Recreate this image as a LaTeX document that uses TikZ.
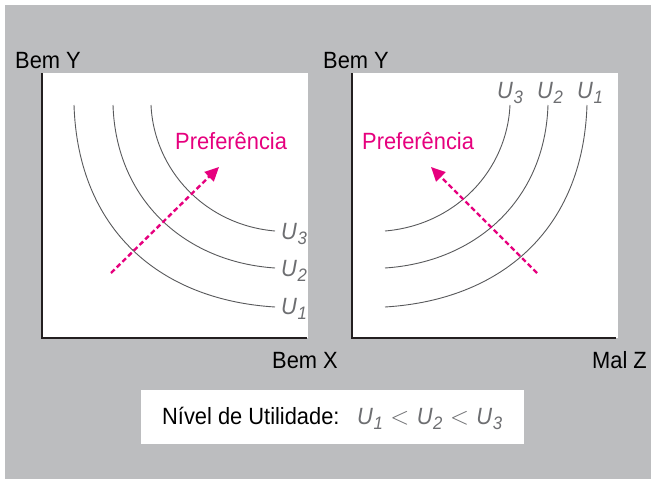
\documentclass[tikz,border=0pt]{standalone}
\usepackage{fontspec}
\setmainfont[FakeStretch=0.93]{Liberation Sans}
\usetikzlibrary{arrows.meta}
\definecolor{bggray}{HTML}{BCBDBF}
\definecolor{curvegray}{HTML}{58595B}
\definecolor{labgray}{HTML}{6D6E71}
\definecolor{axisdark}{HTML}{231F20}
\definecolor{pref}{HTML}{E6007E}
\newcommand\Ulab[1]{\textit{U}\kern0.5pt\raisebox{-0.22em}{\fontsize{18}{18}\selectfont\textit{#1}}}
\newcommand\lessgap{\hspace{7.5pt}{\fontsize{26}{26}\selectfont$<$}\hspace{7.5pt}}
\tikzset{
  lbl/.style={anchor=base west, inner sep=0pt, font=\fontsize{23.5}{27}\selectfont},
  ulbl/.style={anchor=base west, inner sep=0pt, text=labgray, font=\fontsize{23.5}{27}\selectfont},
  prefl/.style={anchor=base west, inner sep=0pt, text=pref, font=\fontsize{23.5}{27}\selectfont},
  panel/.style={fill=white, draw=none},
  axisline/.style={draw=axisdark, line width=1.3pt},
  ucurve/.style={draw=curvegray, line width=0.9pt},
  prefarrow/.style={draw=pref, line width=2.4pt, dash pattern=on 5pt off 3pt, -{Triangle[length=14pt,width=13pt]}}
}
\begin{document}
\begin{tikzpicture}[x=1pt,y=-1pt]
\useasboundingbox (0,0) rectangle (651,479);
\fill[white] (0,0) rectangle (651,479);
\fill[bggray] (5,5) rectangle (651,479);
% panels
\fill[panel] (42,73) rectangle (308,338);
\fill[panel] (351,73) rectangle (618,338);
\fill[panel] (141,390) rectangle (524,444);
% axes
\coordinate (ltop) at (42,73);
\coordinate (lorig) at (42,338);
\coordinate (lend) at (307,338);
\draw[axisline] (ltop) -- (lorig) -- (lend);
\coordinate (rtop) at (352,73);
\coordinate (rorig) at (352,338);
\coordinate (rend) at (616,338);
\draw[axisline] (rtop) -- (rorig) -- (rend);
% axis labels
\node[lbl] (bemyl) at (15,68) {Bem Y};
\node[lbl] (bemyr) at (323,68) {Bem Y};
\node[lbl] (bemx) at (272,368) {Bem X};
\node[lbl] (malz) at (592,368) {Mal Z};
% left curves
\coordinate (l1s) at (74,105); \coordinate (l1e) at (275,307);
\coordinate (l2s) at (113,105); \coordinate (l2e) at (275,268);
\coordinate (l3s) at (151,105); \coordinate (l3e) at (275,231);
\draw[ucurve] (l1s) .. controls (78,230) and (160,300) .. (l1e);
\draw[ucurve] (l2s) .. controls (116,200) and (185,262) .. (l2e);
\draw[ucurve] (l3s) .. controls (154,170) and (205,225) .. (l3e);
\node[ulbl] (lu3) at (281,239) {\Ulab{3}};
\node[ulbl] (lu2) at (281,276) {\Ulab{2}};
\node[ulbl] (lu1) at (281,314) {\Ulab{1}};
% right curves
\coordinate (r1s) at (587,105); \coordinate (r1e) at (385,307);
\coordinate (r2s) at (548,105); \coordinate (r2e) at (385,268);
\coordinate (r3s) at (510,105); \coordinate (r3e) at (385,231);
\draw[ucurve] (r1s) .. controls (583,230) and (501,300) .. (r1e);
\draw[ucurve] (r2s) .. controls (545,200) and (476,262) .. (r2e);
\draw[ucurve] (r3s) .. controls (507,170) and (456,225) .. (r3e);
\node[ulbl] (ru3) at (497,98) {\Ulab{3}};
\node[ulbl] (ru2) at (537,98) {\Ulab{2}};
\node[ulbl] (ru1) at (577,98) {\Ulab{1}};
% preference
\node[prefl] (prefl) at (175,149) {Preferência};
\node[prefl] (prefr) at (362,149) {Preferência};
\coordinate (la0) at (111,273); \coordinate (la1) at (219,167);
\draw[prefarrow] (la0) -- (la1);
\coordinate (ra0) at (537,273); \coordinate (ra1) at (431,167);
\draw[prefarrow] (ra0) -- (ra1);
% bottom legend
\node[lbl] (nivel) at (162,424) {Nível de Utilidade:};
\node[ulbl] (order) at (357,424) {\Ulab{1}\lessgap\Ulab{2}\lessgap\Ulab{3}};
\end{tikzpicture}
\end{document}
